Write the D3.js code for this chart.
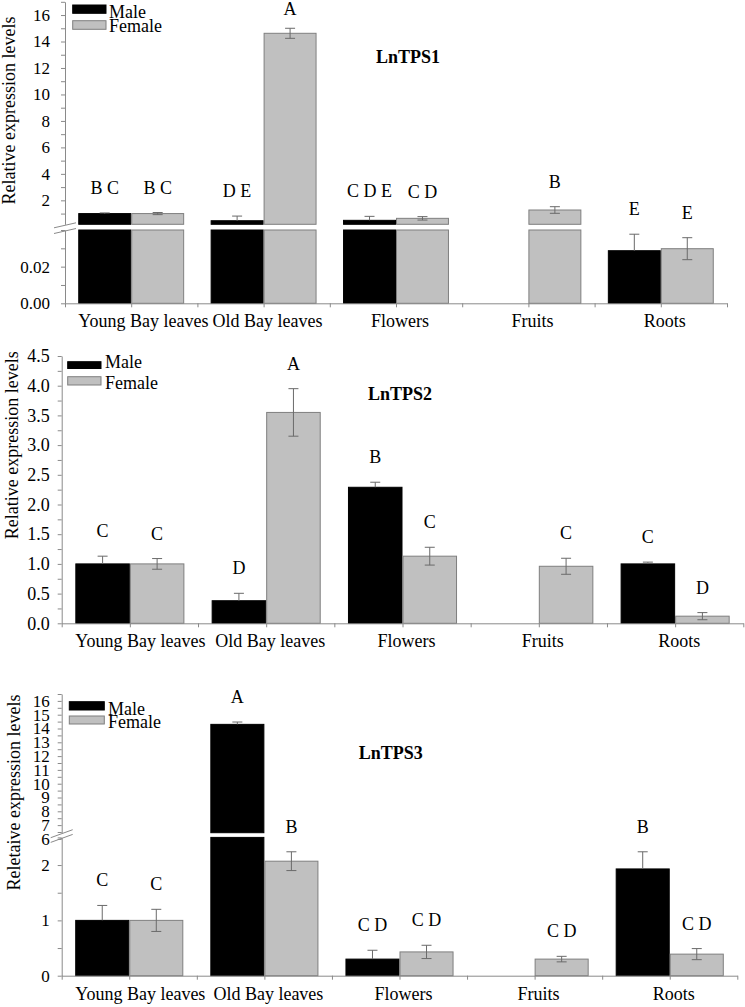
<!DOCTYPE html>
<html><head><meta charset="utf-8">
<script src="https://cdn.jsdelivr.net/npm/d3@7"></script>
<style>html,body{margin:0;padding:0;background:#fff}svg{display:block}</style>
</head><body>
<script>
// ---- data ----
const categories = ["Young Bay leaves", "Old Bay leaves", "Flowers", "Fruits", "Roots"];
const seriesNames = ["Male", "Female"];

const tps1Male      = [1.0, 0.46, 0.49, null, 0.0287];
const tps1MaleErr   = [0.05, 0.35, 0.30, 0, 0.009];
const tps1Female    = [1.0, 14.62, 0.64, 1.27, 0.0298];
const tps1FemaleErr = [0.08, 0.38, 0.13, 0.25, 0.006];
const tps1MaleLetters   = ["B C", "D E", "C D E", "", "E"];
const tps1FemaleLetters = ["B C", "A", "C D", "B", "E"];

const tps2Male      = [1.0, 0.38, 2.29, null, 1.0];
const tps2MaleErr   = [0.13, 0.125, 0.085, 0, 0.03];
const tps2Female    = [1.0, 3.55, 1.13, 0.96, 0.12];
const tps2FemaleErr = [0.09, 0.40, 0.15, 0.135, 0.06];
const tps2MaleLetters   = ["C", "D", "B", "", "C"];
const tps2FemaleLetters = ["C", "A", "C", "C", "D"];

const tps3Male      = [1.0, 14.3, 0.30, null, 1.93];
const tps3MaleErr   = [0.27, 0.17, 0.16, 0, 0.31];
const tps3Female    = [1.0, 2.07, 0.43, 0.30, 0.39];
const tps3FemaleErr = [0.20, 0.17, 0.12, 0.05, 0.10];
const tps3MaleLetters   = ["C", "A", "C D", "", "B"];
const tps3FemaleLetters = ["C", "B", "C D", "C D", "C D"];

const tps1LowerTicks = [0, 0.01, 0.02, 0.03, 0.04];
const tps1LowerLabels = [0, 0.02];
const tps1UpperTicks = d3.range(1, 18, 1);
const tps1UpperLabels = d3.range(2, 17, 2);
const tps2Ticks = d3.range(0, 4.51, 0.25);
const tps2Labels = d3.range(0, 4.51, 0.5);
const tps3LowerTicks = [0, 0.5, 1, 1.5, 2, 2.5];
const tps3LowerLabels = [0, 1, 2];
const tps3UpperTicks = [6].concat(d3.range(6.5, 16.51, 0.5));
const tps3UpperLabels = d3.range(6, 17, 1);

// ---- layout ----
const W = 745, H = 1007;
const FONT = "'Liberation Serif','Times New Roman',serif";
const AXIS = "#8a8a8a", GRAY = "#c0c0c0", GRAYSTROKE = "#7f7f7f", ERR = "#6a6a6a";

const panels = [
  { title: "LnTPS1", titleX: 408, titleY: 63,
    male: tps1Male, maleErr: tps1MaleErr, female: tps1Female, femaleErr: tps1FemaleErr,
    maleL: tps1MaleLetters, femaleL: tps1FemaleLetters,
    yTitle: "Relative expression levels", yTitleX: 15, yTitleY: 110.5,
    x0: 65, x1: 727, base: 303.3, tickPad: 11, tickFs: 17,
    segs: [
      { domain: [0, 0.04], range: [303.3, 230], ticks: tps1LowerTicks, labels: tps1LowerLabels, fmt: d3.format(".2f") },
      { domain: [0.19, 17], range: [224.3, 1.8], ticks: tps1UpperTicks, labels: tps1UpperLabels, fmt: d3.format("d") }
    ],
    breakDy: 2.5,
    legend: { x: 72.7, w: 33.3, y1: 5, h1: 8.3, y2: 20.7, h2: 8.6, tx: 109, t1: 18, t2: 31.7 }
  },
  { title: "LnTPS2", titleX: 400, titleY: 400,
    male: tps2Male, maleErr: tps2MaleErr, female: tps2Female, femaleErr: tps2FemaleErr,
    maleL: tps2MaleLetters, femaleL: tps2FemaleLetters,
    yTitle: "Relative expression levels", yTitleX: 18, yTitleY: 445.3,
    x0: 61.7, x1: 743.3, base: 623.3, tickPad: 8, tickFs: 18,
    segs: [
      { domain: [0, 4.5], range: [623.3, 356], ticks: tps2Ticks, labels: tps2Labels, fmt: d3.format(".1f") }
    ],
    legend: { x: 67.7, w: 33.3, y1: 361.7, h1: 6.8, y2: 376.7, h2: 8.3, tx: 105, t1: 368.3, t2: 389 }
  },
  { title: "LnTPS3", titleX: 390.7, titleY: 759,
    male: tps3Male, maleErr: tps3MaleErr, female: tps3Female, femaleErr: tps3FemaleErr,
    maleL: tps3MaleLetters, femaleL: tps3FemaleLetters,
    yTitle: "Reletaive expression levels", yTitleX: 20, yTitleY: 792.5,
    x0: 61.7, x1: 737.3, base: 975.7, tickPad: 8, tickFs: 17,
    segs: [
      { domain: [0, 2.5], range: [975.7, 837.4], ticks: tps3LowerTicks, labels: tps3LowerLabels, fmt: d3.format("d") },
      { domain: [6.45, 16.5], range: [832.7, 694], ticks: tps3UpperTicks, labels: tps3UpperLabels, fmt: d3.format("d") }
    ],
    breakDy: 4,
    legend: { x: 69.3, w: 35, y1: 701.7, h1: 8.3, y2: 716, h2: 8, tx: 108, t1: 715, t2: 728 }
  }
];

const svg = d3.select("body").append("svg")
  .attr("width", W).attr("height", H)
  .attr("font-family", FONT);

function has(arr, v) { return arr.some(a => Math.abs(a - v) < 1e-9); }

panels.forEach(p => {
  const g = svg.append("g");
  const segScales = p.segs.map(s => d3.scaleLinear().domain(s.domain).range(s.range));
  const lower = segScales[0];
  const lowerMax = p.segs[0].domain[1];
  const upper = segScales[1];
  function yOf(v) { return (upper && v > lowerMax) ? segScales[1](v) : lower(v); }

  const x = d3.scaleBand().domain(categories).range([p.x0, p.x1]).paddingInner(0).paddingOuter(0);
  const xs = d3.scaleBand().domain(seriesNames).range([0, x.bandwidth()]).paddingInner(0).paddingOuter(0.25);

  const rows = [];
  categories.forEach((c, i) => {
    rows.push({ cat: c, s: "Male", v: p.male[i], e: p.maleErr[i], l: p.maleL[i] });
    rows.push({ cat: c, s: "Female", v: p.female[i], e: p.femaleErr[i], l: p.femaleL[i] });
  });
  const valid = rows.filter(r => r.v !== null);

  // bars (split at axis break)
  const barG = g.append("g");
  valid.forEach(r => {
    const bx = x(r.cat) + xs(r.s), bw = xs.bandwidth();
    const fill = r.s === "Male" ? "#000" : GRAY;
    const stroke = r.s === "Male" ? "#000" : GRAYSTROKE;
    const parts = [];
    if (upper && r.v > lowerMax) {
      parts.push([lower(lowerMax), lower(0)]);
      parts.push([upper(r.v), upper(p.segs[1].domain[0])]);
    } else {
      parts.push([lower(r.v), lower(0)]);
    }
    parts.forEach(([y0, y1]) => {
      barG.append("rect")
        .attr("x", bx + 0.5).attr("y", y0)
        .attr("width", bw - 1).attr("height", Math.max(0, y1 - y0))
        .attr("fill", fill).attr("stroke", stroke).attr("stroke-width", 1);
    });
  });

  // error bars
  const errG = g.append("g").attr("stroke", ERR).attr("stroke-width", 1).attr("fill", "none");
  valid.forEach(r => {
    if (!r.e) return;
    const cx = x(r.cat) + xs(r.s) + xs.bandwidth() / 2;
    const yTop = yOf(r.v + r.e), yMid = yOf(r.v), yBot = yOf(r.v - r.e);
    const y2 = r.s === "Male" ? yMid : yBot;
    errG.append("line").attr("x1", cx).attr("x2", cx).attr("y1", yTop).attr("y2", y2);
    errG.append("line").attr("x1", cx - 5).attr("x2", cx + 5).attr("y1", yTop).attr("y2", yTop);
    if (r.s !== "Male") errG.append("line").attr("x1", cx - 5).attr("x2", cx + 5).attr("y1", yBot).attr("y2", yBot);
  });

  // significance letters
  g.append("g").selectAll("text").data(valid.filter(r => r.l)).join("text")
    .attr("x", r => x(r.cat) + xs(r.s) + xs.bandwidth() / 2)
    .attr("y", r => Math.max(15, yOf(r.v + (r.e || 0)) - 19))
    .attr("text-anchor", "middle").attr("font-size", 18).attr("fill", "#000")
    .text(r => r.l);

  // y axes
  p.segs.forEach((s, i) => {
    const ax = d3.axisLeft(segScales[i]).tickValues(s.ticks).tickSize(4).tickSizeOuter(0)
      .tickPadding(p.tickPad).tickFormat(d => has(s.labels, d) ? s.fmt(d) : "");
    const ag = g.append("g").attr("transform", `translate(${p.x0},0)`).call(ax);
    ag.attr("font-family", FONT);
    ag.select(".domain").attr("stroke", AXIS);
    ag.selectAll(".tick line").attr("stroke", AXIS);
    ag.selectAll(".tick text").attr("font-size", p.tickFs).attr("font-family", FONT).attr("fill", "#000");
  });

  // axis break marks
  if (p.segs.length > 1) {
    const yA = p.segs[1].range[0], yB = p.segs[0].range[1];
    const dy = p.breakDy;
    [yA + 1, yB + 1].forEach(yy => {
      g.append("line").attr("x1", p.x0 - 11).attr("x2", p.x0 + 11)
        .attr("y1", yy + dy).attr("y2", yy - dy)
        .attr("stroke", AXIS).attr("stroke-width", 1);
    });
  }

  // x axis (ticks at band edges and centers)
  const xl = d3.scaleLinear().domain([0, categories.length * 2]).range([p.x0, p.x1]);
  const xa = d3.axisBottom(xl).tickValues(d3.range(0, categories.length * 2 + 1)).tickSize(4).tickSizeOuter(0).tickFormat("");
  const xg = g.append("g").attr("transform", `translate(0,${p.base})`).call(xa);
  xg.select(".domain").attr("stroke", AXIS);
  xg.selectAll(".tick line").attr("stroke", AXIS);

  // category labels
  const cl = g.append("g").selectAll("text").data(categories).join("text")
    .attr("y", p.base + 24).attr("text-anchor", "middle").attr("font-size", 18).attr("fill", "#000")
    .text(d => d);
  cl.each(function (d) {
    const w = this.getComputedTextLength();
    const center = x(d) + x.bandwidth() / 2 + 4;
    const minCenter = x(d) + xs(seriesNames[0]) + w / 2;
    d3.select(this).attr("x", Math.max(center, minCenter));
  });

  // y title
  g.append("text")
    .attr("transform", `translate(${p.yTitleX},${p.yTitleY}) rotate(-90)`)
    .attr("text-anchor", "middle").attr("font-size", 18).attr("fill", "#000")
    .text(p.yTitle);

  // panel title
  g.append("text").attr("x", p.titleX).attr("y", p.titleY)
    .attr("text-anchor", "middle").attr("font-size", 18).attr("font-weight", "bold").attr("fill", "#000")
    .text(p.title);

  // legend
  const L = p.legend;
  g.append("rect").attr("x", L.x).attr("y", L.y1).attr("width", L.w).attr("height", L.h1)
    .attr("fill", "#000").attr("stroke", "#000");
  g.append("rect").attr("x", L.x).attr("y", L.y2).attr("width", L.w).attr("height", L.h2)
    .attr("fill", GRAY).attr("stroke", GRAYSTROKE);
  g.append("text").attr("x", L.tx).attr("y", L.t1).attr("font-size", 18).attr("fill", "#000").text(seriesNames[0]);
  g.append("text").attr("x", L.tx).attr("y", L.t2).attr("font-size", 18).attr("fill", "#000").text(seriesNames[1]);
});
</script>
</body></html>
